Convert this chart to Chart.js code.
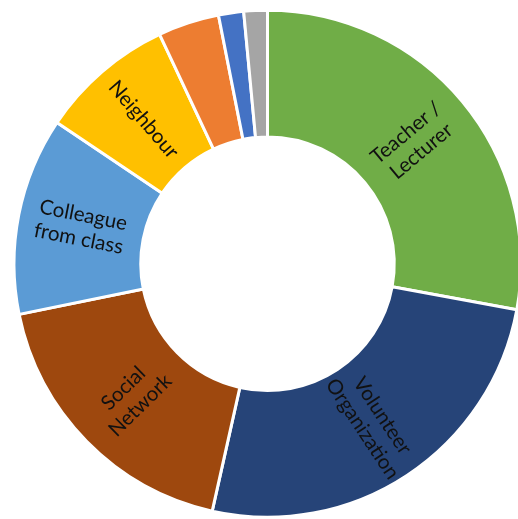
<!DOCTYPE html>
<html>
<head>
<meta charset="utf-8">
<script src="https://cdn.jsdelivr.net/npm/chart.js@4.4.1/dist/chart.umd.min.js"></script>
<style>
  html, body { margin: 0; padding: 0; background: #ffffff; overflow: hidden; width: 518px; height: 519px; }
  #wrap { position: absolute; left: 0; top: 0; width: 540px; height: 519px; }
</style>
</head>
<body>
<div id="wrap"><canvas id="chart"></canvas></div>
<script>
// Where people heard about the programme (share of responses, %)
const categories = [
  ['Teacher /', 'Lecturer'],
  ['Volunteer', 'Organization'],
  ['Social', 'Network'],
  ['Colleague', 'from class'],
  ['Neighbour'],
  [],
  [],
  []
];
const shares = [27.9, 25.6, 18.3, 12.6, 8.6, 3.9, 1.6, 1.5];
const sliceColors = ['#70AD47', '#264478', '#9E480E', '#5B9BD5', '#FFC000', '#ED7D31', '#4472C4', '#A5A5A5'];

// Writes each category name along the radius of its slice
const radialLabels = {
  id: 'radialLabels',
  afterDatasetsDraw(chart) {
    const ctx = chart.ctx;
    const arcs = chart.getDatasetMeta(0).data;
    const fontSize = 20.5;
    const lineHeight = 24;
    ctx.save();
    ctx.font = fontSize + 'px Lato, "Open Sans", sans-serif';
    ctx.fillStyle = '#111111';
    ctx.textAlign = 'center';
    ctx.textBaseline = 'middle';
    arcs.forEach((arc, i) => {
      const lines = categories[i];
      if (!lines || !lines.length) return;
      const p = arc.getProps(['x', 'y', 'startAngle', 'endAngle', 'innerRadius', 'outerRadius'], true);
      const mid = (p.startAngle + p.endAngle) / 2;
      const r = (p.innerRadius + p.outerRadius) / 2;
      const x = p.x + Math.cos(mid) * r;
      const y = p.y + Math.sin(mid) * r;
      let rot = mid;
      if (Math.cos(mid) < 0) rot = mid - Math.PI;
      ctx.save();
      ctx.translate(x, y);
      ctx.rotate(rot);
      const top = -((lines.length - 1) * lineHeight) / 2;
      lines.forEach((t, k) => ctx.fillText(t, 0, top + k * lineHeight));
      ctx.restore();
    });
    ctx.restore();
  }
};

new Chart(document.getElementById('chart'), {
  type: 'doughnut',
  data: {
    labels: categories.map(l => l.join(' ')),
    datasets: [{
      data: shares,
      backgroundColor: sliceColors,
      borderColor: '#ffffff',
      borderWidth: 3
    }]
  },
  options: {
    responsive: true,
    maintainAspectRatio: false,
    animation: false,
    events: [],
    cutout: '50%',
    layout: { padding: { left: 12.5, top: 8.5, right: 17.5, bottom: 0 } },
    plugins: {
      legend: { display: false },
      tooltip: { enabled: false }
    }
  },
  plugins: [radialLabels]
});
</script>
</body>
</html>
